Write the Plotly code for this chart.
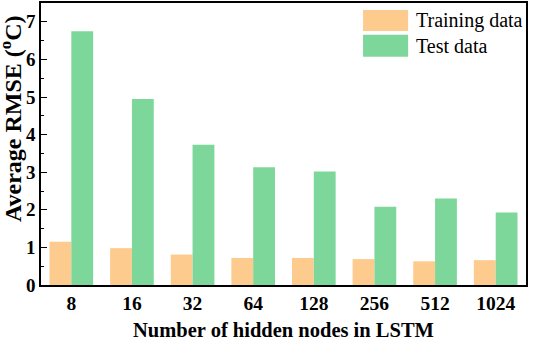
import plotly.graph_objects as go

categories = ["8", "16", "32", "64", "128", "256", "512", "1024"]
training = [1.15, 0.98, 0.81, 0.72, 0.72, 0.69, 0.63, 0.66]
test = [6.75, 4.95, 3.73, 3.13, 3.02, 2.08, 2.30, 1.93]
series_names = ["Training data", "Test data"]
colors = ["#FECB8F", "#7ED79A"]

fig = go.Figure()
fig.add_trace(go.Bar(x=categories, y=training, name=series_names[0],
                     marker=dict(color=colors[0], line=dict(width=0))))
fig.add_trace(go.Bar(x=categories, y=test, name=series_names[1],
                     marker=dict(color=colors[1], line=dict(width=0))))

font_fam = "Liberation Serif"

fig.update_layout(
    width=533, height=341,
    margin=dict(l=41, r=7, t=3, b=56, autoexpand=False),
    paper_bgcolor="white", plot_bgcolor="white",
    barmode="group", bargap=0.28, bargroupgap=0,
    showlegend=False,
    font=dict(family=font_fam, color="black"),
)
fig.update_xaxes(
    type="category", automargin=False,
    showline=True, linecolor="black", linewidth=1.5, mirror=True,
    ticks="", showgrid=False,
    tickfont=dict(size=19.5, family=font_fam, weight="bold"),
)
fig.update_yaxes(
    range=[0, 7.5], dtick=1, tick0=0, automargin=False,
    showline=True, linecolor="black", linewidth=1.5, mirror=True,
    ticks="inside", ticklen=6, tickwidth=1.2, tickcolor="black",
    minor=dict(dtick=0.5, ticks="inside", ticklen=3, tickwidth=1.2, tickcolor="black", showgrid=False),
    showgrid=False, zeroline=False,
    tickfont=dict(size=19, family=font_fam, weight="bold"),
)

# Axis titles
fig.add_annotation(xref="paper", yref="paper", x=0.501, y=-0.158,
                   text="<b>Number of hidden nodes in LSTM</b>", showarrow=False,
                   xanchor="center", yanchor="middle",
                   font=dict(size=20.5, family=font_fam, color="black"))
fig.add_annotation(xref="paper", yref="paper", x=-0.062, y=0.592,
                   text="<b>Average RMSE (<sup>o</sup>C)</b>", showarrow=False,
                   textangle=-90, xanchor="center", yanchor="middle",
                   font=dict(size=24, family=font_fam, color="black"))

# Manual legend with large swatches
leg_items = [(series_names[0], colors[0], 0.901, 0.975, 0.938),
             (series_names[1], colors[1], 0.809, 0.887, 0.848)]
for name, col, y0, y1, yc in leg_items:
    fig.add_shape(type="rect", xref="paper", yref="paper",
                  x0=0.664, x1=0.757, y0=y0, y1=y1,
                  fillcolor=col, line=dict(width=0))
    fig.add_annotation(xref="paper", yref="paper", x=0.769, y=yc,
                       text=name, showarrow=False, xanchor="left", yanchor="middle",
                       font=dict(size=20, family=font_fam, color="black"))

fig.write_html("out.html", config={"displayModeBar": False},
               post_script="document.body.style.margin='0';")
